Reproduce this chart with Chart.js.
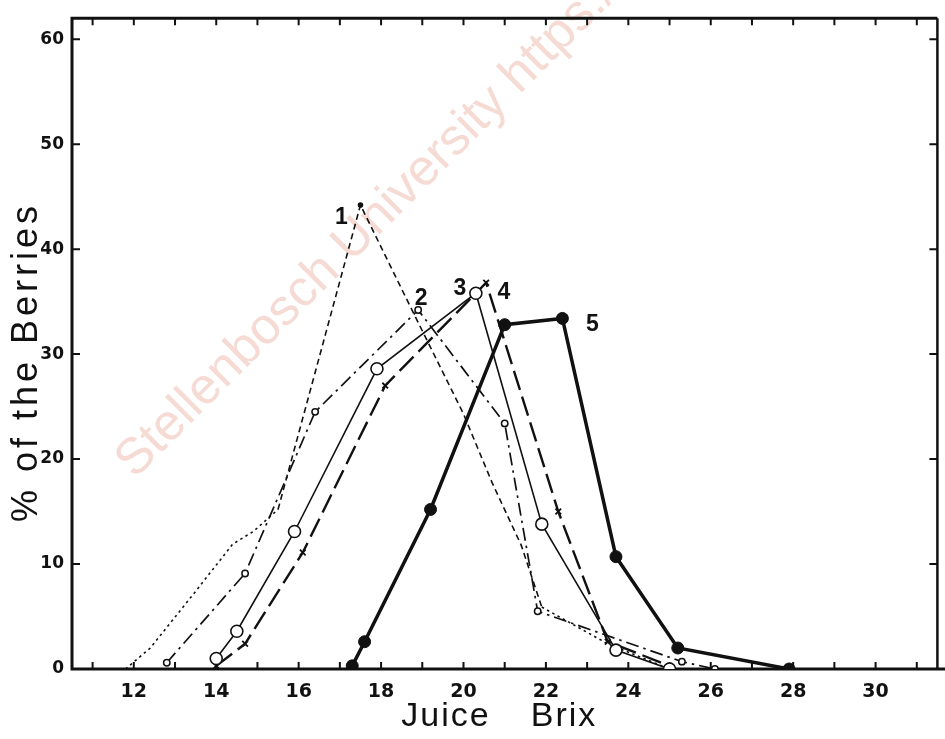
<!DOCTYPE html>
<html>
<head>
<meta charset="utf-8">
<title>Juice Brix</title>
<script src="https://cdn.jsdelivr.net/npm/chart.js@4.4.0/dist/chart.umd.min.js"></script>
<style>
  html, body { margin: 0; padding: 0; background: #fff; }
  #caja { width: 945px; height: 739px; }
</style>
</head>
<body>
<div id="caja"><canvas id="grafica" width="945" height="739"></canvas></div>
<script>
// curve 1 (fine dashes / dots)
var brix1 = [11.8, 12.4, 13.5, 14.4, 14.9, 15.5, 17.5, 18.7, 20.0, 20.7, 21.4, 21.9, 23.5, 25.0];
var pct1 = [0, 2.0, 7.4, 11.9, 13.1, 15.2, 44.2, 34.6, 24.3, 17.7, 11.8, 5.9, 2.4, 0];
// curve 2 (dash-dot, small circles)
var brix2 = [12.8, 14.7, 16.4, 18.9, 21.0, 21.8, 25.3, 26.1];
var pct2 = [0.6, 9.1, 24.5, 34.2, 23.4, 5.5, 0.7, 0];
// curve 3 (thin line, big open circles)
var brix3 = [14.0, 14.5, 15.9, 17.9, 20.3, 21.9, 23.7, 25.0];
var pct3 = [1.0, 3.6, 13.1, 28.6, 35.8, 13.8, 1.8, 0];
// curve 4 (long dashes, crosses)
var brix4 = [14.0, 14.7, 16.1, 18.1, 20.55, 22.3, 23.5, 25.0];
var pct4 = [0.3, 2.4, 11.1, 27.0, 36.8, 15.0, 2.6, 0.3];
// curve 5 (heavy line, filled dots)
var brix5 = [17.3, 17.6, 19.2, 21.0, 22.4, 23.7, 25.2, 27.9];
var pct5 = [0.3, 2.6, 15.2, 32.8, 33.4, 10.7, 2.0, 0];

// curve numbers written next to the lines
var numeros = ['1', '2', '3', '4', '5'];
var numX = [17.04, 18.97, 19.91, 20.98, 23.13];
var numY = [43.0, 35.3, 36.2, 35.9, 32.8];

var xLabels = [12, 14, 16, 18, 20, 22, 24, 26, 28, 30];
var yLabels = [0, 10, 20, 30, 40, 50, 60];

var tinta = '#111';
var marca = 'Stellenbosch University https://scholar.sun.ac.za';

function puntos(xs, ys) {
    var arr = [];
    for (let i = 0; i < xs.length; i++) {
        arr.push({ x: xs[i], y: ys[i] });
    }
    return arr;
}

var pico1 = Math.max.apply(null, pct1);

// watermark, frame, inner ticks and text
const dibujo = {
    id: 'dibujo',
    beforeDatasetsDraw(chart) {
        const ctx = chart.ctx;
        const x = chart.scales.x;
        const y = chart.scales.y;
        const a = chart.chartArea;

        // watermark
        ctx.save();
        ctx.translate(x.getPixelForValue(11.78), y.getPixelForValue(19.0));
        ctx.rotate(-Math.PI / 4);
        ctx.font = '51px "Liberation Sans", Arial, sans-serif';
        ctx.fillStyle = 'rgba(232, 170, 150, 0.42)';
        ctx.textBaseline = 'middle';
        ctx.fillText(marca, 0, 0);
        ctx.restore();

        ctx.save();
        ctx.strokeStyle = tinta;
        ctx.lineCap = 'butt';
        // box
        ctx.lineWidth = 3;
        ctx.beginPath();
        ctx.moveTo(a.right, a.top);
        ctx.lineTo(a.left, a.top);
        ctx.lineTo(a.left, a.bottom);
        ctx.lineTo(chart.width, a.bottom);
        ctx.stroke();
        ctx.lineWidth = 2.5;
        ctx.beginPath();
        ctx.moveTo(a.right, a.top);
        ctx.lineTo(a.right, a.bottom);
        ctx.stroke();

        // ticks pointing inwards
        ctx.lineWidth = 2;
        ctx.beginPath();
        for (let v = 11; v <= 31; v++) {
            let px = x.getPixelForValue(v);
            ctx.moveTo(px, a.bottom);
            ctx.lineTo(px, a.bottom - 7);
            ctx.moveTo(px, a.top);
            ctx.lineTo(px, a.top + 7);
        }
        for (let v = 10; v <= 60; v += 10) {
            let py = y.getPixelForValue(v);
            ctx.moveTo(a.left, py);
            ctx.lineTo(a.left + 8, py);
            ctx.moveTo(a.right, py);
            ctx.lineTo(a.right - 8, py);
        }
        ctx.stroke();
        ctx.restore();
    },
    afterDraw(chart) {
        const ctx = chart.ctx;
        const x = chart.scales.x;
        const y = chart.scales.y;
        ctx.save();
        ctx.fillStyle = tinta;

        // curve numbers
        ctx.font = 'bold 23px "Liberation Sans", Arial, sans-serif';
        ctx.textAlign = 'center';
        ctx.textBaseline = 'middle';
        for (let i = 0; i < numeros.length; i++) {
            ctx.fillText(numeros[i], x.getPixelForValue(numX[i]), y.getPixelForValue(numY[i]));
        }

        // axis titles
        ctx.font = '34px "Liberation Sans", Arial, sans-serif';
        ctx.letterSpacing = '2px';
        ctx.textBaseline = 'alphabetic';
        ctx.fillText('Juice', 446, 726);
        ctx.fillText('Brix', 564, 726);

        ctx.font = '36px "Liberation Sans", Arial, sans-serif';
        ctx.letterSpacing = '4px';
        ctx.translate(37, 362);
        ctx.rotate(-Math.PI / 2);
        ctx.fillText('% of the Berries', 0, 0);
        ctx.restore();
    }
};

var datos = {
    datasets: [
        {
            label: '5',
            data: puntos(brix5, pct5),
            borderColor: tinta,
            backgroundColor: tinta,
            borderWidth: 3.5,
            pointRadius: 6,
            pointBackgroundColor: tinta,
            pointBorderWidth: 1
        },
        {
            label: '3',
            data: puntos(brix3, pct3),
            borderColor: tinta,
            borderWidth: 1.6,
            pointRadius: 6,
            pointBackgroundColor: '#fff',
            pointBorderWidth: 1.6
        },
        {
            label: '4',
            data: puntos(brix4, pct4),
            borderColor: tinta,
            borderWidth: 2.4,
            borderDash: [20, 7],
            pointStyle: 'crossRot',
            pointRadius: 4,
            pointBorderWidth: 1.8
        },
        {
            label: '2',
            data: puntos(brix2, pct2),
            borderColor: tinta,
            borderWidth: 1.7,
            borderDash: [13, 5, 2.5, 5],
            pointRadius: 3.2,
            pointBackgroundColor: '#fff',
            pointBorderWidth: 1.5
        },
        {
            label: '1',
            data: puntos(brix1, pct1),
            borderColor: tinta,
            borderWidth: 1.6,
            pointRadius: ctx => (ctx.raw && ctx.raw.y === pico1) ? 2 : 0,
            pointBackgroundColor: tinta,
            segment: {
                borderDash: ctx => (ctx.p0.parsed.x < 15.4 || ctx.p0.parsed.x >= 21.8) ? [2.5, 3.5] : [6, 4]
            }
        }
    ]
};

var config = {
    type: 'scatter',
    data: datos,
    options: {
        responsive: false,
        animation: false,
        devicePixelRatio: 1,
        showLine: true,
        layout: { padding: { top: 11, right: 3, left: 0, bottom: 0 } },
        plugins: {
            legend: { display: false },
            tooltip: { enabled: false }
        },
        scales: {
            x: {
                type: 'linear',
                min: 10.5,
                max: 31.5,
                grid: { display: false, drawTicks: false },
                border: { display: false },
                afterFit: s => { s.height = 70 },
                afterBuildTicks: s => { s.ticks = xLabels.map(v => ({ value: v })) },
                ticks: {
                    autoSkip: false,
                    maxRotation: 0,
                    padding: 12,
                    color: tinta,
                    font: { family: '"DejaVu Sans", sans-serif', size: 19, weight: 'bold' }
                }
            },
            y: {
                type: 'linear',
                min: 0,
                max: 62,
                grid: { display: false, drawTicks: false },
                border: { display: false },
                afterFit: s => { s.width = 72 },
                afterBuildTicks: s => { s.ticks = yLabels.map(v => ({ value: v })) },
                ticks: {
                    padding: 8,
                    color: tinta,
                    font: { family: '"DejaVu Sans", sans-serif', size: 17, weight: 'bold' }
                }
            }
        }
    },
    plugins: [dibujo]
};

const myChart = new Chart(document.getElementById('grafica'), config);
</script>
</body>
</html>
